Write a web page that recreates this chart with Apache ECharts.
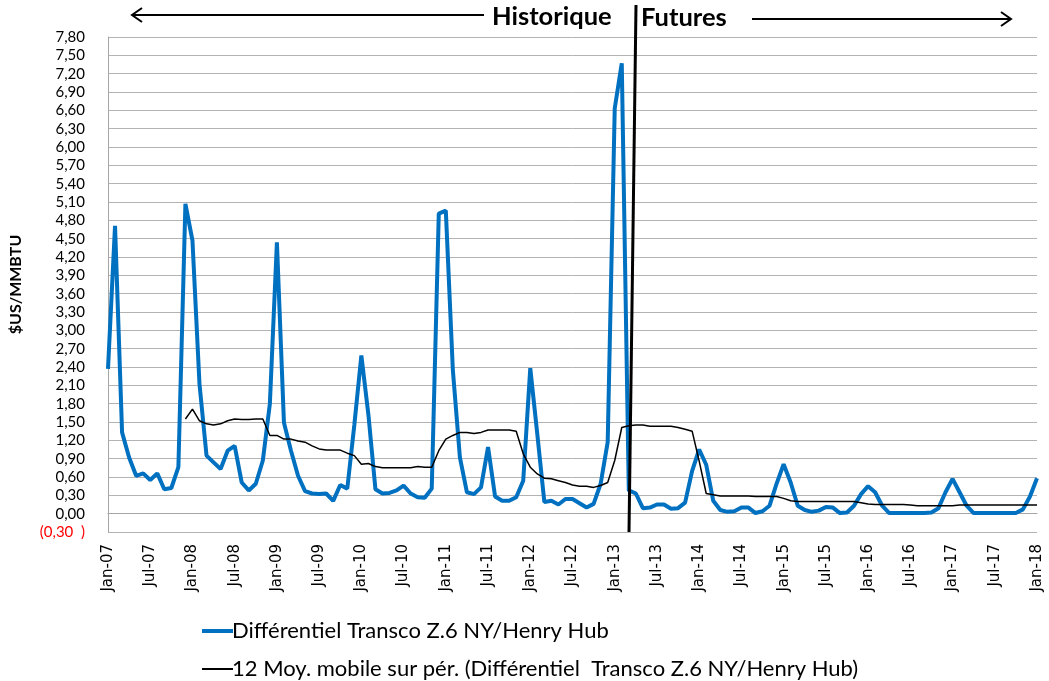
<!DOCTYPE html>
<html>
<head>
<meta charset="utf-8">
<script src="https://cdn.jsdelivr.net/npm/echarts@6/dist/echarts.min.js"></script>
<style>
  html, body { margin: 0; padding: 0; background: #fff; }
  #chart { width: 1049px; height: 681px; }
</style>
</head>
<body>
<div id="chart"></div>
<script>
// mois Jan-07 .. Jan-18
var monthNames = ['Jan', 'Feb', 'Mar', 'Apr', 'May', 'Jun', 'Jul', 'Aug', 'Sep', 'Oct', 'Nov', 'Dec'];
var months = [];
for (var y = 7; y <= 18; y++) {
  for (var m = 0; m < 12; m++) {
    if (y === 18 && m > 0) break;
    months.push(monthNames[m] + '-' + (y < 10 ? '0' + y : y));
  }
}

// Différentiel Transco Z.6 NY/Henry Hub ($US/MMBTU)
var differentiel = [
  2.37, 4.71, 1.33, 0.92, 0.62, 0.66, 0.55, 0.66, 0.40, 0.42, 0.76, 5.07,
  4.47, 2.12, 0.95, 0.84, 0.73, 1.03, 1.11, 0.51, 0.38, 0.49, 0.87, 1.80,
  4.44, 1.49, 1.03, 0.62, 0.37, 0.33, 0.32, 0.33, 0.21, 0.47, 0.41, 1.45,
  2.59, 1.62, 0.40, 0.33, 0.34, 0.38, 0.46, 0.33, 0.27, 0.26, 0.41, 4.91,
  4.96, 2.35, 0.92, 0.35, 0.32, 0.43, 1.09, 0.28, 0.21, 0.21, 0.27, 0.54,
  2.38, 1.30, 0.19, 0.21, 0.15, 0.24, 0.24, 0.17, 0.10, 0.16, 0.49, 1.17,
  6.63, 7.37, 0.38, 0.33, 0.09, 0.10, 0.15, 0.15, 0.08, 0.09, 0.18, 0.70,
  1.05, 0.80, 0.21, 0.06, 0.03, 0.04, 0.10, 0.10, 0.01, 0.04, 0.13, 0.49,
  0.81, 0.51, 0.13, 0.06, 0.03, 0.05, 0.11, 0.10, 0.01, 0.02, 0.13, 0.32,
  0.45, 0.35, 0.13, 0.01, 0.01, 0.01, 0.01, 0.01, 0.01, 0.02, 0.09, 0.35,
  0.57, 0.35, 0.13, 0.01, 0.01, 0.01, 0.01, 0.01, 0.01, 0.01, 0.07, 0.28,
  0.58
];

// 12 Moy. mobile sur pér.
var moyMobile = [
  null, null, null, null, null, null, null, null, null, null, null, 1.55,
  1.71, 1.52, 1.47, 1.45, 1.47, 1.52, 1.55, 1.54, 1.54, 1.55, 1.55, 1.28,
  1.28, 1.22, 1.22, 1.19, 1.17, 1.11, 1.06, 1.04, 1.04, 1.04, 0.99, 0.95,
  0.81, 0.82, 0.77, 0.75, 0.75, 0.75, 0.75, 0.75, 0.77, 0.76, 0.76, 1.03,
  1.22, 1.28, 1.33, 1.33, 1.31, 1.33, 1.37, 1.37, 1.37, 1.37, 1.35, 0.98,
  0.76, 0.65, 0.58, 0.57, 0.54, 0.51, 0.47, 0.45, 0.45, 0.43, 0.46, 0.51,
  0.87, 1.41, 1.44, 1.45, 1.45, 1.43, 1.43, 1.43, 1.43, 1.41, 1.38, 1.35,
  0.86, 0.33, 0.31, 0.29, 0.29, 0.29, 0.29, 0.29, 0.28, 0.28, 0.28, 0.28,
  0.25, 0.21, 0.20, 0.20, 0.20, 0.20, 0.20, 0.20, 0.20, 0.20, 0.20, 0.18,
  0.16, 0.15, 0.15, 0.15, 0.15, 0.15, 0.14, 0.13, 0.13, 0.13, 0.13, 0.13,
  0.13, 0.14, 0.14, 0.14, 0.14, 0.14, 0.14, 0.14, 0.14, 0.14, 0.14, 0.14,
  0.14
];

var serieNom = 'Différentiel Transco Z.6 NY/Henry Hub';
var moyNom = '12 Moy. mobile sur pér. (Différentiel  Transco Z.6 NY/Henry Hub)';

var myChart = echarts.init(document.getElementById('chart'));

var legendText = { fontFamily: 'Lato', fontSize: 22, color: '#000', padding: [0, 0, 0, -6] };

var option = {
  backgroundColor: '#fff',
  animation: false,
  grid: {
    left: 106,
    right: 12,
    top: 37,
    bottom: 149
  },
  legend: [
    {
      data: [{ name: serieNom, icon: 'rect' }],
      left: 197,
      top: 615,
      itemWidth: 31,
      itemHeight: 4,
      textStyle: legendText
    },
    {
      data: [{ name: moyNom, icon: 'rect' }],
      left: 197,
      top: 653,
      itemWidth: 31,
      itemHeight: 2,
      textStyle: legendText
    }
  ],
  xAxis: {
    type: 'category',
    data: months,
    boundaryGap: false,
    axisLine: { lineStyle: { color: '#a6a6a6', width: 1 } },
    axisTick: { show: false },
    axisLabel: {
      interval: 5,
      rotate: 90,
      margin: 12,
      fontFamily: 'DejaVu Sans',
      fontSize: 15,
      color: '#000'
    },
    splitLine: { show: false }
  },
  yAxis: {
    type: 'value',
    min: -0.3,
    max: 7.8,
    interval: 0.3,
    name: '$US/MMBTU',
    nameLocation: 'middle',
    nameRotate: 90,
    nameGap: 84,
    nameTextStyle: { fontFamily: 'Lato', fontWeight: 'bold', fontSize: 16, color: '#000' },
    axisLine: { show: true, lineStyle: { color: '#a6a6a6' } },
    axisTick: { show: false },
    axisLabel: {
      margin: 23,
      fontFamily: 'Lato',
      fontSize: 15,
      formatter: function (v) {
        var r = Math.round(v * 100) / 100;
        if (r < 0) return '{neg|(' + Math.abs(r).toFixed(2).replace('.', ',') + '  )}';
        return r.toFixed(2).replace('.', ',');
      },
      color: '#000',
      rich: {
        neg: { color: '#ff0000', fontFamily: 'Lato', fontSize: 15 }
      }
    },
    splitLine: { lineStyle: { color: '#b3b3b3', width: 1 } }
  },
  series: [
    {
      name: serieNom,
      type: 'line',
      data: differentiel,
      symbol: 'none',
      lineStyle: { color: '#0070c0', width: 4 },
      itemStyle: { color: '#0070c0' },
      z: 3
    },
    {
      name: moyNom,
      type: 'line',
      data: moyMobile,
      symbol: 'none',
      lineStyle: { color: '#000', width: 1.5 },
      itemStyle: { color: '#000' },
      z: 4
    }
  ],
  graphic: [
    // séparation historique / futures
    { type: 'line', shape: { x1: 636, y1: 5, x2: 629, y2: 532 }, style: { stroke: '#000', lineWidth: 3 }, z: 10 },
    // flèche gauche
    { type: 'line', shape: { x1: 132, y1: 15, x2: 484, y2: 15 }, style: { stroke: '#000', lineWidth: 2 } },
    { type: 'polyline', shape: { points: [[142, 8], [132, 15], [142, 22]] }, style: { stroke: '#000', lineWidth: 2, fill: null } },
    // flèche droite
    { type: 'line', shape: { x1: 752, y1: 19, x2: 1011, y2: 19 }, style: { stroke: '#000', lineWidth: 2 } },
    { type: 'polyline', shape: { points: [[1001, 12], [1011, 19], [1001, 26]] }, style: { stroke: '#000', lineWidth: 2, fill: null } },
    {
      type: 'text', left: 492, top: 4,
      style: { text: 'Historique', font: 'bold 25.5px Lato', fill: '#000' }
    },
    {
      type: 'text', left: 641, top: 5,
      style: { text: 'Futures', font: 'bold 25.5px Lato', fill: '#000' }
    }
  ]
};

myChart.setOption(option);
</script>
</body>
</html>
